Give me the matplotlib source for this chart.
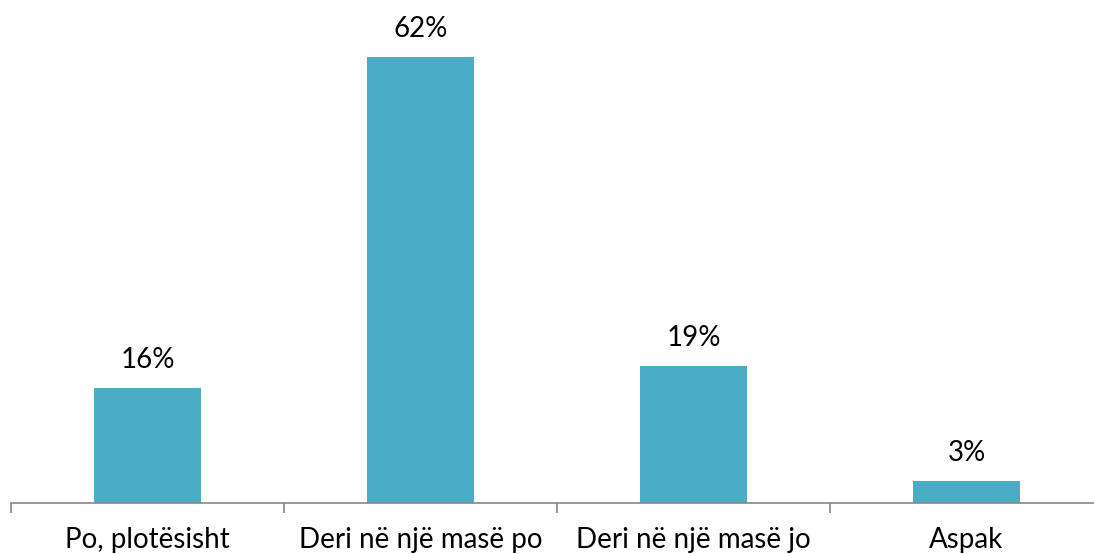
import matplotlib.pyplot as plt

categories = ["Po, plotësisht", "Deri në një masë po", "Deri në një masë jo", "Aspak"]
values = [16, 62, 19, 3]

barColor = "#4BACC6"
axisColor = "#868686"

plt.rcParams['font.family'] = ['Lato', 'DejaVu Sans']

fig = plt.figure(figsize=(10.94, 5.54), dpi=100)
# axis spans a bit past the right edge of the figure
ax = fig.add_axes([11 / 1094, 1 - 503 / 554, 1092 / 1094, 503 / 554])

x = list(range(len(categories)))
ax.bar(x, values, width=0.39, color=barColor, zorder=2)

for i, v in zip(x, values):
    ax.annotate("{0}%".format(v), (i, v), xytext=(0, 11), textcoords="offset points",
                ha="center", va="bottom", fontsize=20, color="black")

ax.set_xlim(-0.5, len(categories) - 0.5)
ax.set_ylim(0, 70)

# category boundaries get the tick marks, labels sit on minor ticks
ax.set_xticks([i - 0.5 for i in range(len(categories) + 1)])
ax.set_xticklabels([])
ax.set_xticks(x, minor=True)
ax.set_xticklabels(categories, minor=True, fontsize=20)
ax.tick_params(axis="x", which="major", length=7, width=1.2, color=axisColor)
ax.tick_params(axis="x", which="minor", length=0, pad=17)
ax.set_yticks([])

for side in ["top", "right", "left"]:
    ax.spines[side].set_visible(False)
ax.spines["bottom"].set_color(axisColor)
ax.spines["bottom"].set_linewidth(1.2)

fig.savefig("out.png", dpi=100)
